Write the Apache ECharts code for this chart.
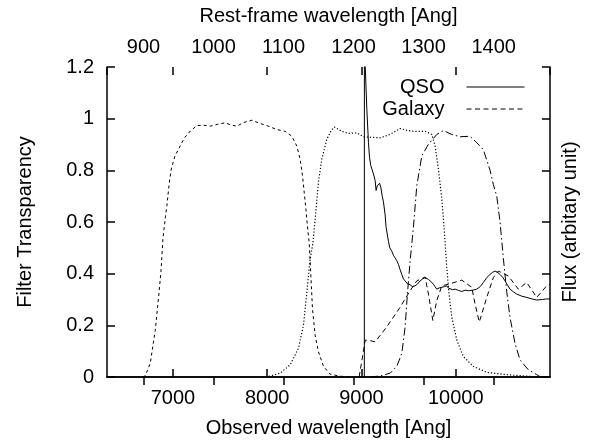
<!DOCTYPE html>
<html>
<head>
<meta charset="utf-8">
<script src="https://cdn.jsdelivr.net/npm/echarts@6.0.0/dist/echarts.min.js"></script>
<style>
  html, body { margin: 0; padding: 0; background: #fff; }
  #chart { width: 590px; height: 443px; }
</style>
</head>
<body>
<div id="chart"></div>
<script>
// redshift of the source (Lya 1216 lands at ~9035 A)
var redshift = 6.43;
var obsMin = 6300, obsMax = 11000;

// filter 1 (short dashes)
var f1Wave = [6680, 6706, 6759, 6812, 6847, 6873, 6894, 6920, 6936, 6960, 6982, 7020, 7059, 7120, 7183, 7254, 7320, 7396, 7470, 7554, 7620, 7678, 7750, 7837, 7920, 7996, 8102, 8190, 8261, 8314, 8349, 8374, 8392, 8410, 8425, 8445, 8463, 8480, 8508, 8543, 8597, 8667, 8773, 8900];
var f1Trans = [0, 0.005, 0.053, 0.181, 0.308, 0.41, 0.538, 0.62, 0.665, 0.75, 0.805, 0.855, 0.882, 0.925, 0.952, 0.973, 0.975, 0.971, 0.978, 0.984, 0.975, 0.971, 0.985, 0.994, 0.982, 0.973, 0.958, 0.951, 0.932, 0.894, 0.843, 0.78, 0.716, 0.652, 0.589, 0.52, 0.391, 0.264, 0.162, 0.098, 0.041, 0.011, 0.003, 0];

// filter 2 (dotted)
var f2Wave = [7950, 8013, 8137, 8243, 8331, 8384, 8420, 8455, 8485, 8519, 8543, 8579, 8632, 8680, 8712, 8791, 8861, 8950, 9021, 9100, 9198, 9304, 9410, 9480, 9551, 9675, 9746, 9781, 9816, 9852, 9876, 9905, 9929, 9958, 10011, 10081, 10187, 10329, 10541, 10800, 11000];
var f2Trans = [0, 0.002, 0.015, 0.047, 0.111, 0.2, 0.327, 0.455, 0.52, 0.652, 0.754, 0.843, 0.92, 0.955, 0.968, 0.951, 0.943, 0.945, 0.93, 0.928, 0.926, 0.939, 0.962, 0.955, 0.951, 0.951, 0.939, 0.894, 0.805, 0.69, 0.58, 0.423, 0.321, 0.232, 0.143, 0.079, 0.041, 0.018, 0.009, 0.002, 0];

// filter 3 (dash-dot)
var f3Wave = [9090, 9198, 9304, 9375, 9428, 9463, 9487, 9516, 9551, 9587, 9640, 9710, 9799, 9869, 9958, 10046, 10152, 10223, 10293, 10364, 10399, 10435, 10470, 10505, 10541, 10576, 10629, 10682, 10770, 10859, 10900];
var f3Trans = [0, 0.004, 0.015, 0.041, 0.092, 0.194, 0.321, 0.449, 0.58, 0.741, 0.856, 0.901, 0.939, 0.954, 0.939, 0.93, 0.932, 0.907, 0.88, 0.8, 0.745, 0.7, 0.6, 0.46, 0.33, 0.23, 0.13, 0.066, 0.028, 0.009, 0];

// QSO spectrum (solid)
var qsoWave = [9030, 9031, 9040, 9057, 9074, 9085, 9099, 9127, 9145, 9155, 9168, 9180, 9192, 9205, 9220, 9233, 9251, 9261, 9286, 9300, 9322, 9340, 9357, 9375, 9392, 9410, 9428, 9445, 9463, 9490, 9516, 9540, 9569, 9595, 9622, 9650, 9675, 9690, 9710, 9735, 9763, 9780, 9799, 9825, 9852, 9880, 9905, 9920, 9940, 9965, 9993, 10030, 10064, 10100, 10134, 10180, 10223, 10260, 10293, 10330, 10364, 10390, 10417, 10445, 10470, 10500, 10523, 10550, 10576, 10610, 10647, 10700, 10753, 10800, 10859, 10920, 10960, 11000];
var qsoFlux = [0, 1.5, 1.2, 1.034, 0.907, 0.85, 0.818, 0.786, 0.76, 0.722, 0.74, 0.735, 0.75, 0.735, 0.7, 0.678, 0.627, 0.58, 0.525, 0.5, 0.487, 0.47, 0.461, 0.45, 0.436, 0.415, 0.397, 0.38, 0.372, 0.36, 0.357, 0.35, 0.353, 0.36, 0.372, 0.38, 0.385, 0.39, 0.378, 0.37, 0.359, 0.35, 0.34, 0.345, 0.347, 0.35, 0.353, 0.345, 0.347, 0.338, 0.34, 0.335, 0.331, 0.336, 0.334, 0.336, 0.34, 0.35, 0.366, 0.385, 0.397, 0.405, 0.41, 0.405, 0.397, 0.385, 0.372, 0.355, 0.34, 0.33, 0.321, 0.313, 0.308, 0.303, 0.298, 0.3, 0.302, 0.302];

// galaxy template (dashed)
var galWave = [8975, 9040, 9100, 9145, 9268, 9410, 9516, 9587, 9675, 9710, 9757, 9799, 9852, 9922, 10064, 10170, 10205, 10250, 10329, 10399, 10452, 10558, 10664, 10753, 10859, 10965, 11000];
var galFlux = [0, 0.143, 0.14, 0.136, 0.194, 0.27, 0.334, 0.372, 0.387, 0.321, 0.219, 0.296, 0.353, 0.359, 0.375, 0.347, 0.283, 0.213, 0.308, 0.385, 0.41, 0.391, 0.34, 0.366, 0.308, 0.353, 0.359];

function pairs(xs, ys) {
    return xs.map(function (x, i) { return [x, ys[i]]; });
}

var font = 'Liberation Sans, Arial, Helvetica, sans-serif';
var black = '#000';
var tick = { inside: true, length: 8, lineStyle: { color: black, width: 1.5 } };
var line = { lineStyle: { color: black, width: 1.5 } };
var label = { color: black, fontSize: 20, fontFamily: font };
var nameStyle = { color: black, fontSize: 20, fontFamily: font };
var plain = function (v) { return String(v); };

function curve(name, data, dash, width) {
    return {
        name: name,
        type: 'line',
        data: data,
        symbol: 'none',
        clip: true,
        animation: false,
        lineStyle: { color: black, width: width || 1, type: dash },
        itemStyle: { color: black }
    };
}

var chart = echarts.init(document.getElementById('chart'));
var option = {
    backgroundColor: '#fff',
    animation: false,
    grid: { left: 107, right: 40, top: 67, bottom: 62 },
    legend: {
        data: ['QSO', 'Galaxy'],
        orient: 'vertical',
        align: 'right',
        right: 60,
        top: 72,
        itemWidth: 58,
        itemHeight: 14,
        itemGap: 2,
        selectedMode: false,
        itemStyle: { opacity: 0 },
        lineStyle: { width: 1 },
        textStyle: { color: black, fontSize: 20, fontFamily: font, lineHeight: 20, padding: [0, 17, 0, 0] }
    },
    xAxis: [{
        type: 'value',
        position: 'bottom',
        min: obsMin,
        max: obsMax,
        name: 'Observed wavelength [Ang]',
        nameLocation: 'middle',
        nameGap: 41,
        nameTextStyle: nameStyle,
        axisLine: line,
        axisTick: tick,
        splitLine: { show: false },
        axisLabel: Object.assign({ margin: 11, formatter: plain, showMinLabel: false, showMaxLabel: false }, label)
    }, {
        type: 'value',
        position: 'top',
        min: obsMin / (1 + redshift),
        max: obsMax / (1 + redshift),
        name: 'Rest-frame wavelength [Ang]',
        nameLocation: 'middle',
        nameGap: 41,
        nameTextStyle: nameStyle,
        axisLine: line,
        axisTick: tick,
        splitLine: { show: false },
        axisLabel: Object.assign({ margin: 10, formatter: plain, showMinLabel: false, showMaxLabel: false }, label)
    }, {
        // mirrored observed ticks on the top border
        type: 'value',
        position: 'top',
        min: obsMin,
        max: obsMax,
        axisLine: { show: false },
        axisTick: tick,
        splitLine: { show: false },
        axisLabel: { show: false }
    }],
    yAxis: [{
        type: 'value',
        position: 'left',
        min: 0,
        max: 1.2,
        interval: 0.2,
        name: 'Filter Transparency',
        nameLocation: 'middle',
        nameRotate: 90,
        nameGap: 72,
        nameTextStyle: nameStyle,
        axisLine: { show: true, lineStyle: { color: black, width: 1.5 } },
        axisTick: tick,
        splitLine: { show: false },
        axisLabel: Object.assign({ margin: 13 }, label)
    }, {
        type: 'value',
        position: 'right',
        min: 0,
        max: 1.2,
        interval: 0.2,
        name: 'Flux (arbitary unit)',
        nameLocation: 'middle',
        nameRotate: 90,
        nameGap: 10,
        nameTextStyle: nameStyle,
        axisLine: { show: true, lineStyle: { color: black, width: 1.5 } },
        axisTick: tick,
        splitLine: { show: false },
        axisLabel: { show: false }
    }],
    series: [
        curve('Filter 1', pairs(f1Wave, f1Trans), [3, 3]),
        curve('Filter 2', pairs(f2Wave, f2Trans), [1.2, 2], 1.2),
        curve('Filter 3', pairs(f3Wave, f3Trans), [8, 3, 1.5, 3]),
        curve('QSO', pairs(qsoWave, qsoFlux), 'solid'),
        curve('Galaxy', pairs(galWave, galFlux), [5, 3.5])
    ]
};
chart.setOption(option);
</script>
</body>
</html>
